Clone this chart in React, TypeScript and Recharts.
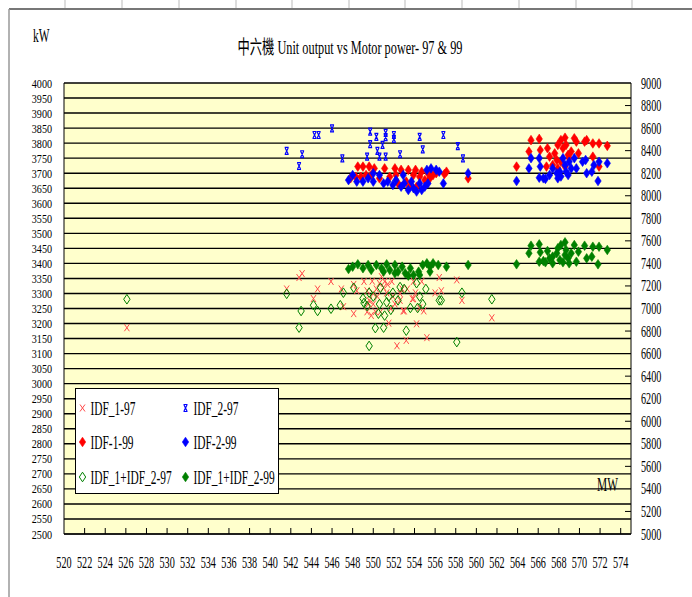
import React from 'react'
import { ScatterChart, Scatter, XAxis, YAxis, CartesianGrid } from 'recharts'

// MW ticks and the two kW scales
const xTicks = [520, 522, 524, 526, 528, 530, 532, 534, 536, 538, 540, 542, 544, 546, 548, 550, 552, 554, 556, 558, 560, 562, 564, 566, 568, 570, 572, 574]
const leftTicks = [2500, 2550, 2600, 2650, 2700, 2750, 2800, 2850, 2900, 2950, 3000, 3050, 3100, 3150, 3200, 3250, 3300, 3350, 3400, 3450, 3500, 3550, 3600, 3650, 3700, 3750, 3800, 3850, 3900, 3950, 4000]
const rightTicks = [5000, 5200, 5400, 5600, 5800, 6000, 6200, 6400, 6600, 6800, 7000, 7200, 7400, 7600, 7800, 8000, 8200, 8400, 8600, 8800, 9000]

// [MW, kW]
const idf1_97: [number, number][] = [
  [526.1, 3186], [541.6, 3315], [542.8, 3353], [543.1, 3366], [544.2, 3283], [544.6, 3315], [545.9, 3340], [546.9, 3315],
  [548.1, 3330], [548.1, 3233], [548.4, 3309], [549.1, 3340], [549.4, 3309], [549.6, 3277], [549.8, 3227], [550.0, 3265],
  [550.3, 3315], [550.6, 3334], [551.1, 3340], [551.4, 3330], [551.5, 3201], [551.8, 3340], [551.9, 3290], [552.3, 3126],
  [552.6, 3277], [553.0, 3242], [553.2, 3144], [553.9, 3283], [554.2, 3199], [554.5, 3252], [554.7, 3340], [554.9, 3242],
  [555.2, 3153], [556.0, 3302], [556.4, 3353], [556.6, 3309], [558.1, 3345], [558.6, 3277], [561.5, 3219], [550.7, 3239],
  [551.3, 3302], [552.8, 3315], [554.1, 3302], [552.1, 3265], [550.2, 3239], [549.4, 3239], [553.9, 3340], [550.8, 3356],
  [549.9, 3341], [547.1, 3256], [552.9, 3242], [553.8, 3282], [551.0, 3320], [550.4, 3290], [552.6, 3300], [549.5, 3265],
  [551.7, 3250], [553.3, 3315], [550.0, 3300],
]
const idf2_97: [number, number][] = [
  [541.6, 3774], [543.1, 3763], [542.8, 3724], [544.3, 3827], [544.7, 3827], [546.0, 3849], [547.0, 3749], [549.4, 3755],
  [549.7, 3838], [550.3, 3821], [549.7, 3797], [550.4, 3774], [550.9, 3794], [551.2, 3834], [551.2, 3820], [552.0, 3827],
  [552.0, 3814], [550.6, 3755], [551.2, 3755], [552.6, 3763], [554.5, 3821], [554.8, 3779], [556.8, 3827], [558.2, 3790],
  [558.7, 3749],
]
const idf1_99: [number, number][] = [
  [548.5, 3722], [549.0, 3722], [549.6, 3722], [550.1, 3716], [551.1, 3716], [552.1, 3716], [552.7, 3711], [553.4, 3711],
  [554.1, 3711], [554.7, 3705], [555.3, 3700], [555.8, 3694], [556.1, 3700], [556.9, 3697], [547.8, 3683], [548.3, 3688],
  [548.8, 3688], [549.3, 3694], [549.8, 3694], [550.6, 3683], [551.6, 3688], [552.2, 3694], [553.2, 3672], [553.9, 3694],
  [554.5, 3688], [555.0, 3677], [555.5, 3683], [557.1, 3705], [559.2, 3683], [552.4, 3666], [553.5, 3655], [554.2, 3655],
  [565.3, 3810], [566.1, 3814], [565.1, 3772], [566.2, 3777], [566.9, 3783], [563.9, 3722], [567.1, 3755], [567.6, 3766],
  [567.9, 3794], [568.2, 3810], [568.6, 3818], [568.4, 3783], [568.7, 3794], [568.9, 3761], [569.2, 3772], [569.5, 3816],
  [569.7, 3805], [569.9, 3766], [570.5, 3805], [570.7, 3810], [571.3, 3799], [571.9, 3799], [572.7, 3791], [571.3, 3755],
  [571.9, 3722], [567.8, 3744], [567.4, 3727], [566.8, 3722], [568.2, 3738], [568.6, 3722], [569.0, 3750], [567.9, 3716],
]
const idf2_99: [number, number][] = [
  [547.6, 3677], [548.0, 3694], [548.4, 3672], [549.0, 3672], [549.5, 3683], [550.0, 3672], [550.6, 3694], [551.0, 3666],
  [551.4, 3672], [551.9, 3661], [552.2, 3677], [552.7, 3655], [553.0, 3666], [553.4, 3644], [553.9, 3650], [554.2, 3639],
  [554.7, 3644], [555.0, 3655], [555.3, 3666], [555.2, 3711], [555.6, 3716], [556.1, 3711], [556.4, 3705], [556.8, 3666],
  [559.2, 3700], [553.7, 3672], [550.0, 3700], [554.5, 3666], [552.9, 3694],
  [563.9, 3674], [565.1, 3716], [565.3, 3750], [566.1, 3750], [566.2, 3722], [566.1, 3685], [566.5, 3683], [566.7, 3681],
  [567.1, 3694], [567.4, 3716], [567.9, 3683], [568.1, 3705], [568.4, 3750], [568.6, 3727], [568.7, 3705], [568.9, 3694],
  [569.2, 3716], [569.5, 3750], [569.7, 3716], [570.3, 3738], [570.6, 3744], [570.7, 3700], [571.2, 3705], [571.4, 3727],
  [571.9, 3738], [572.7, 3733], [571.8, 3674], [569.0, 3738], [568.2, 3689], [567.8, 3700],
]
// [MW, kW] on the right-hand scale
const sum97: [number, number][] = [
  [526.1, 7082], [541.6, 7130], [543.0, 6978], [542.8, 6830], [544.2, 7029], [544.6, 6978], [545.9, 6998], [546.8, 7029],
  [547.1, 7140], [548.1, 7184], [549.1, 7049], [549.6, 6668], [549.6, 7140], [550.0, 7106], [550.2, 6826], [550.5, 6954],
  [550.7, 7184], [551.0, 6830], [551.3, 7055], [551.7, 6988], [551.9, 7140], [552.6, 7190], [553.2, 6803], [553.6, 7005],
  [554.2, 7224], [554.5, 7106], [554.8, 7039], [555.1, 7173], [556.4, 7072], [556.6, 7072], [558.1, 6702], [558.6, 7140],
  [561.5, 7082], [549.0, 7089], [550.6, 7039], [551.5, 7106], [552.4, 7072], [553.0, 7173], [554.3, 7005], [549.4, 7022],
  [551.1, 6937],
]
const sum99: [number, number][] = [
  [547.6, 7350], [548.0, 7371], [548.5, 7392], [549.0, 7357], [549.5, 7386], [549.8, 7342], [550.3, 7386], [550.8, 7357],
  [551.3, 7392], [551.6, 7342], [552.1, 7386], [552.4, 7327], [552.8, 7371], [553.1, 7312], [553.6, 7357], [553.9, 7297],
  [554.4, 7327], [554.8, 7386], [555.2, 7401], [555.5, 7371], [555.8, 7401], [556.3, 7386], [557.1, 7371], [559.2, 7386],
  [553.4, 7291], [554.5, 7297], [552.1, 7312], [555.5, 7327], [551.0, 7327],
  [563.9, 7392], [565.3, 7557], [566.1, 7569], [565.1, 7490], [566.2, 7499], [566.9, 7510], [566.1, 7415], [566.5, 7421],
  [566.7, 7410], [567.1, 7445], [567.4, 7460], [567.8, 7490], [567.9, 7534], [568.2, 7563], [568.6, 7587], [568.7, 7519],
  [568.9, 7445], [569.2, 7490], [569.5, 7563], [569.9, 7504], [570.5, 7557], [570.7, 7445], [571.3, 7548], [571.2, 7460],
  [571.9, 7548], [572.7, 7519], [571.8, 7392], [568.1, 7430], [568.4, 7410], [569.0, 7401], [569.7, 7415], [568.6, 7475],
  [567.4, 7401],
]

const pts = (a: [number, number][]) => a.map(([x, y]) => ({ x, y }))

const SERIF = "'Liberation Serif', 'Times New Roman', 'Noto Sans CJK TC', serif"
const RED = '#FF0000'
const RED_X = '#FF4A4A'
const BLUE = '#0000FF'
const GREEN = '#008000'

function Narrow({ x, y, anchor = 'start', size = 17, sx = 0.6, children }: any) {
  return (
    <text transform={`translate(${x} ${y}) scale(${sx} 1)`} textAnchor={anchor}
      fontSize={size} fontFamily={SERIF} fill="#000">{children}</text>
  )
}

function LeftTick({ x, y, payload }: any) {
  return <Narrow x={x - 12} y={y + 4.5} anchor="end" size={13} sx={0.78}>{payload.value}</Narrow>
}

function RightTick({ x, y, payload }: any) {
  const mark = (9000 - payload.value) % 400 === 200
  return (
    <g>
      {mark && <line x1={x - 6} y1={y} x2={x} y2={y} stroke="#000" />}
      <Narrow x={x + 10} y={y + 5.5}>{payload.value}</Narrow>
    </g>
  )
}

function BottomTick({ x, y, payload }: any) {
  return (
    <g>
      {payload.value !== 520 && <line x1={x} y1={y - 6} x2={x} y2={y} stroke="#000" />}
      <Narrow x={x} y={y + 34} anchor="middle">{payload.value}</Narrow>
    </g>
  )
}

const xMark = (c: string) => (p: any) => {
  const { cx, cy } = p
  return <path d={`M${cx - 2.5},${cy - 3.5}L${cx + 2.5},${cy + 3.5}M${cx + 2.5},${cy - 3.5}L${cx - 2.5},${cy + 3.5}`} stroke={c} fill="none" />
}
const hourglass = (c: string) => (p: any) => {
  const { cx, cy } = p
  return <path d={`M${cx - 2},${cy - 3.5}L${cx + 2},${cy - 3.5}M${cx - 2},${cy + 3.5}L${cx + 2},${cy + 3.5}M${cx - 1.5},${cy - 3}L${cx + 1.5},${cy + 3}M${cx + 1.5},${cy - 3}L${cx - 1.5},${cy + 3}`} stroke={c} strokeWidth={1.2} fill="none" />
}
const diamond = (c: string, hollow = false) => (p: any) => {
  const { cx, cy } = p
  return <path d={`M${cx},${cy - 4.8}L${cx + 3.2},${cy}L${cx},${cy + 4.8}L${cx - 3.2},${cy}Z`}
    fill={hollow ? 'none' : c} stroke={c} strokeWidth={hollow ? 1 : 0.6} />
}

const legendItems = [
  { name: 'IDF_1-97', shape: xMark(RED_X), col: 0, row: 0 },
  { name: 'IDF_2-97', shape: hourglass(BLUE), col: 1, row: 0 },
  { name: 'IDF-1-99', shape: diamond(RED), col: 0, row: 1 },
  { name: 'IDF-2-99', shape: diamond(BLUE), col: 1, row: 1 },
  { name: 'IDF_1+IDF_2-97', shape: diamond(GREEN, true), col: 0, row: 2 },
  { name: 'IDF_1+IDF_2-99', shape: diamond(GREEN), col: 1, row: 2 },
]

function ChartLegend() {
  return (
    <div style={{ position: 'absolute', left: 75, top: 388, width: 204, height: 106, background: '#fff', border: '1px solid #000', boxSizing: 'border-box' }}>
      <svg width={204} height={106} style={{ position: 'absolute', left: -1, top: -1 }}>
        {legendItems.map(it => {
          const mx = it.col ? 110.5 : 7.5
          const my = [20, 54, 89][it.row]
          return (
            <g key={it.name}>
              {it.shape({ cx: mx, cy: my })}
              <Narrow x={mx + 8} y={my + 6.5} size={19} sx={0.6}>{it.name}</Narrow>
            </g>
          )
        })}
      </svg>
    </div>
  )
}

export default function App() {
  return (
    <div style={{ position: 'absolute', left: 0, top: 0, width: 692, height: 597, background: '#fff', overflow: 'hidden' }}>
      <ScatterChart width={692} height={597} margin={{ top: 83, right: 0, bottom: 0, left: 0 }}>
        <CartesianGrid yAxisId="left" vertical={false} fill="#FFFFCC" fillOpacity={1} stroke="#000" strokeWidth={1.4} />
        <XAxis type="number" dataKey="x" domain={[520, 575]} ticks={xTicks} interval={0} height={63}
          tickLine={false} tickSize={0} tickMargin={0} axisLine={{ stroke: '#000' }} tick={<BottomTick />} />
        <YAxis yAxisId="left" type="number" dataKey="y" domain={[2500, 4000]} ticks={leftTicks} interval={0} width={64}
          tickLine={false} tickSize={0} tickMargin={0} axisLine={{ stroke: '#000' }} tick={<LeftTick />} />
        <YAxis yAxisId="right" orientation="right" type="number" dataKey="y" domain={[5000, 9000]} ticks={rightTicks} interval={0} width={61}
          tickLine={false} tickSize={0} tickMargin={0} axisLine={{ stroke: '#000' }} tick={<RightTick />} />
        <Scatter name="IDF_1-97" yAxisId="left" data={pts(idf1_97)} shape={xMark(RED_X)} isAnimationActive={false} />
        <Scatter name="IDF_2-97" yAxisId="left" data={pts(idf2_97)} shape={hourglass(BLUE)} isAnimationActive={false} />
        <Scatter name="IDF-1-99" yAxisId="left" data={pts(idf1_99)} shape={diamond(RED)} isAnimationActive={false} />
        <Scatter name="IDF-2-99" yAxisId="left" data={pts(idf2_99)} shape={diamond(BLUE)} isAnimationActive={false} />
        <Scatter name="IDF_1+IDF_2-97" yAxisId="right" data={pts(sum97)} shape={diamond(GREEN, true)} isAnimationActive={false} />
        <Scatter name="IDF_1+IDF_2-99" yAxisId="right" data={pts(sum99)} shape={diamond(GREEN)} isAnimationActive={false} />
      </ScatterChart>
      <ChartLegend />
      <svg width={692} height={597} style={{ position: 'absolute', left: 0, top: 0, pointerEvents: 'none' }}>
        <line x1={9} y1={9} x2={692} y2={9} stroke="#777" strokeWidth={2} />
        <line x1={9} y1={9} x2={9} y2={597} stroke="#999" strokeWidth={1.5} />
        {[65, 122, 179, 236, 292, 349, 405, 462, 519, 576, 632].map(tx => (
          <line key={tx} x1={tx} y1={0} x2={tx} y2={8} stroke="#bbb" />
        ))}
        <Narrow x={33} y={41.5} size={19} sx={0.6}>kW</Narrow>
        <text x={350} y={54} textAnchor="middle" fontSize={19} fontFamily={SERIF} textLength={225} lengthAdjust="spacingAndGlyphs">中六機 Unit output vs Motor power- 97 &amp; 99</text>
        <Narrow x={597} y={491} size={19} sx={0.6}>MW</Narrow>
      </svg>
    </div>
  )
}
